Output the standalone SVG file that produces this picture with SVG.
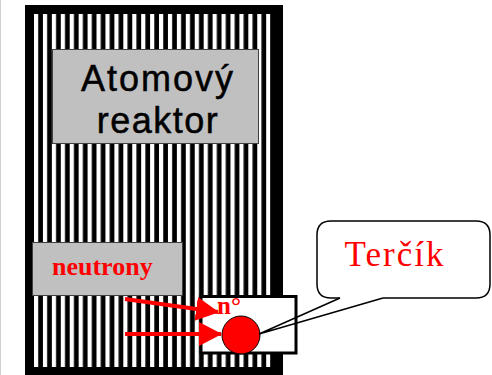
<svg xmlns="http://www.w3.org/2000/svg" width="492" height="375" viewBox="0 0 492 375">
  <defs>
    <pattern id="stripes" patternUnits="userSpaceOnUse" x="34" y="0" width="8.93" height="10">
      <rect x="0" y="0" width="8.93" height="10" fill="#000"/>
      <rect x="0" y="0" width="4.2" height="10" fill="#fff"/>
    </pattern>
    <marker id="ah" markerUnits="userSpaceOnUse" markerWidth="24" markerHeight="26" refX="22" refY="12" orient="auto">
      <path d="M0,0 L23,12 L0,24 Z" fill="#f00"/>
    </marker>
    <style>
      .gray { fill: #c0c0c0; stroke: #404040; stroke-width: 1; }
      .sans { font-family: "Liberation Sans", Arial, sans-serif; fill: #000; stroke: #000; stroke-width: 0.5; }
      .serif { font-family: "Liberation Serif", "Times New Roman", serif; fill: #f00; }
      .arrow { stroke: #f00; stroke-width: 4; fill: none; marker-end: url(#ah); }
      .tail { stroke: #000; stroke-width: 1.5; fill: none; }
    </style>
  </defs>
  <rect x="0" y="0" width="492" height="375" fill="#fff"/>
  <line x1="0.5" y1="0" x2="0.5" y2="375" stroke="#d0d0d0" stroke-width="1"/>

  <g id="reactor">
    <rect x="25" y="5" width="258" height="375" fill="#000"/>
    <rect x="33" y="14" width="237.5" height="353" fill="url(#stripes)"/>
  </g>

  <g id="reactor-label">
    <rect class="gray" x="52.5" y="49.5" width="206" height="94"/>
    <text class="sans" x="158" y="91" font-size="36" text-anchor="middle" letter-spacing="2">Atomový</text>
    <text class="sans" x="158" y="133" font-size="36" text-anchor="middle" letter-spacing="1.5">reaktor</text>
  </g>

  <g id="neutrony">
    <rect class="gray" x="32.5" y="242.5" width="150" height="53"/>
    <text class="serif" x="52" y="275" font-size="26" font-weight="bold">neutrony</text>
  </g>

  <g id="target">
    <rect x="201" y="296.5" width="95" height="56.5" fill="#fff" stroke="#000" stroke-width="3"/>
    <text class="serif" x="217" y="314" font-size="25" font-weight="bold">n°</text>
    <circle cx="241" cy="335" r="19" fill="#f00" stroke="#000" stroke-width="1"/>
  </g>

  <g id="connectors">
    <line class="arrow" x1="125" y1="299" x2="218" y2="312"/>
    <line class="arrow" x1="125" y1="334" x2="221" y2="334"/>
  </g>

  <g id="callout">
    <path d="M340,298 L331,298 Q317,298 317,284 L317,235 Q317,221 331,221 L476,221 Q490,221 490,235 L490,284 Q490,298 476,298 L383,298" fill="#fff" stroke="#000" stroke-width="1.5"/>
    <text class="serif" x="395" y="266" font-size="35" text-anchor="middle" letter-spacing="2">Terčík</text>
  </g>

  <g id="callout-tail">
    <polyline class="tail" points="340,298 259,334 383,298"/>
  </g>
</svg>
